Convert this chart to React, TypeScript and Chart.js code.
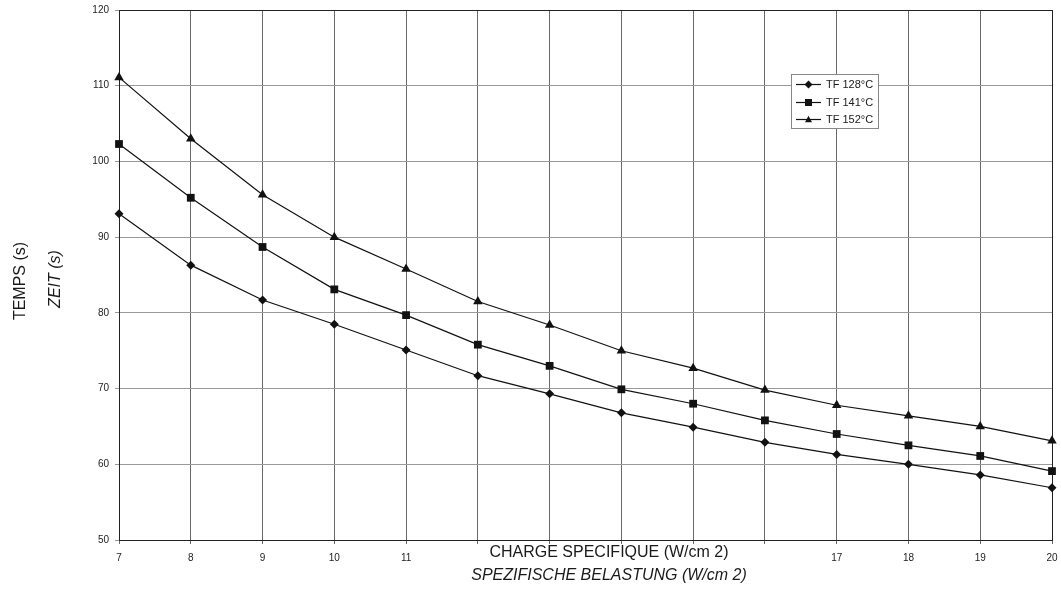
import React, { useEffect, useRef } from "react";
import { Chart, registerables } from "chart.js";

Chart.register(...registerables);

const xValues = [7, 8, 9, 10, 11, 12, 13, 14, 15, 16, 17, 18, 19, 20];
const tf128 = [93.1, 86.3, 81.7, 78.5, 75.1, 71.7, 69.3, 66.8, 64.9, 62.9, 61.3, 60.0, 58.6, 56.9];
const tf141 = [102.3, 95.2, 88.7, 83.1, 79.7, 75.8, 73.0, 69.9, 68.0, 65.8, 64.0, 62.5, 61.1, 59.1];
const tf152 = [111.1, 103.0, 95.6, 90.0, 85.8, 81.5, 78.4, 75.0, 72.7, 69.8, 67.8, 66.4, 65.0, 63.1];
const seriesLabels = ["TF 128°C", "TF 141°C", "TF 152°C"];
const seriesMarkers = ["rectRot", "rect", "triangle"];
const hiddenXTickLabels = [12, 13, 14, 15, 16];
const yMin = 50;
const yMax = 120;
const yStep = 10;
const yTitle1 = "TEMPS (s)";
const yTitle2 = "ZEIT (s)";
const xTitle1 = "CHARGE SPECIFIQUE (W/cm 2)";
const xTitle2 = "SPEZIFISCHE BELASTUNG (W/cm 2)";

const FONT = "Arial, 'Liberation Sans', Helvetica, sans-serif";

function drawMarker(ctx: CanvasRenderingContext2D, style: string, x: number, y: number, r: number) {
  ctx.beginPath();
  if (style === "rectRot") {
    ctx.moveTo(x, y - r);
    ctx.lineTo(x + r, y);
    ctx.lineTo(x, y + r);
    ctx.lineTo(x - r, y);
  } else if (style === "rect") {
    ctx.rect(x - r, y - r, 2 * r, 2 * r);
  } else {
    ctx.moveTo(x, y - r * 1.1);
    ctx.lineTo(x + r, y + r * 0.8);
    ctx.lineTo(x - r, y + r * 0.8);
  }
  ctx.closePath();
  ctx.fill();
}

const decorPlugin = {
  id: "decor",
  beforeDatasetsDraw(chart: any) {
    const { ctx, chartArea } = chart;
    ctx.save();
    ctx.strokeStyle = "#222";
    ctx.lineWidth = 1;
    ctx.strokeRect(
      Math.round(chartArea.left) + 0.5,
      Math.round(chartArea.top) + 0.5,
      Math.round(chartArea.right - chartArea.left),
      Math.round(chartArea.bottom - chartArea.top)
    );
    ctx.restore();
  },
  afterDraw(chart: any) {
    const { ctx } = chart;
    ctx.save();
    ctx.fillStyle = "#1a1a1a";
    ctx.textAlign = "center";
    ctx.textBaseline = "middle";
    ctx.save();
    ctx.translate(21, 281);
    ctx.rotate(-Math.PI / 2);
    ctx.font = `16px ${FONT}`;
    ctx.fillText(yTitle1, 0, 0);
    ctx.restore();
    ctx.save();
    ctx.translate(56, 279);
    ctx.rotate(-Math.PI / 2);
    ctx.font = `italic 16px ${FONT}`;
    ctx.fillText(yTitle2, 0, 0);
    ctx.restore();
    ctx.font = `16px ${FONT}`;
    ctx.fillText(xTitle1, 609, 553);
    ctx.font = `italic 16px ${FONT}`;
    ctx.fillText(xTitle2, 609, 576);

    const lx = 791, ly = 74, lw = 87, lh = 54;
    ctx.fillStyle = "#fff";
    ctx.fillRect(lx, ly, lw, lh);
    ctx.strokeStyle = "#888";
    ctx.lineWidth = 1;
    ctx.strokeRect(lx + 0.5, ly + 0.5, lw, lh);
    const rows = [84, 102, 119];
    chart.data.datasets.forEach((ds: any, i: number) => {
      const y = rows[i];
      ctx.strokeStyle = "#111";
      ctx.lineWidth = 1.2;
      ctx.beginPath();
      ctx.moveTo(796, y + 0.5);
      ctx.lineTo(821, y + 0.5);
      ctx.stroke();
      ctx.fillStyle = "#111";
      drawMarker(ctx, ds.pointStyle, 808.5, y + 0.5, ds.pointStyle === "rectRot" ? 4 : 3.5);
      ctx.fillStyle = "#1a1a1a";
      ctx.font = `11px ${FONT}`;
      ctx.textAlign = "left";
      ctx.textBaseline = "middle";
      ctx.fillText(ds.label, 826, y + 1);
    });
    ctx.restore();
  },
};

export default function App() {
  const canvasRef = useRef<HTMLCanvasElement | null>(null);

  useEffect(() => {
    if (!canvasRef.current) return;
    const seriesValues = [tf128, tf141, tf152];
    const radii = [4.5, 5.5, 5.5];
    const chart = new Chart(canvasRef.current, {
      type: "line",
      data: {
        datasets: seriesValues.map((vals, i) => ({
          label: seriesLabels[i],
          data: vals.map((v, j) => ({ x: xValues[j], y: v })),
          borderColor: "#111",
          backgroundColor: "#111",
          borderWidth: 1.2,
          pointStyle: seriesMarkers[i] as any,
          pointRadius: radii[i],
          pointBackgroundColor: "#111",
          pointBorderColor: "#111",
          pointBorderWidth: 0,
          tension: 0,
          clip: false as any,
        })),
      },
      options: {
        animation: false,
        responsive: false,
        maintainAspectRatio: false,
        layout: { padding: { left: 0, right: 9, top: 10, bottom: 0 } },
        plugins: {
          legend: { display: false },
          tooltip: { enabled: false },
        },
        scales: {
          x: {
            type: "linear",
            min: xValues[0],
            max: xValues[xValues.length - 1],
            afterFit: (s: any) => {
              s.height = 52;
              s.paddingLeft = 0;
              s.paddingRight = 0;
            },
            ticks: {
              stepSize: 1,
              padding: 8,
              color: "#222",
              font: { family: FONT, size: 10 },
              maxRotation: 0,
              autoSkip: false,
              callback: (v: any) => (hiddenXTickLabels.includes(Number(v)) ? "" : String(v)),
            },
            grid: { color: "#6a6a6a", lineWidth: 1, tickLength: 4, drawTicks: true },
            border: { display: true, color: "#222" },
          },
          y: {
            min: yMin,
            max: yMax,
            afterFit: (s: any) => {
              s.width = 119;
              s.paddingTop = 0;
              s.paddingBottom = 0;
            },
            ticks: {
              stepSize: yStep,
              padding: 6,
              color: "#222",
              font: { family: FONT, size: 10 },
            },
            grid: { color: "#9a9a9a", lineWidth: 1, tickLength: 4, drawTicks: true },
            border: { display: true, color: "#222" },
          },
        },
      },
      plugins: [decorPlugin],
    });
    return () => chart.destroy();
  }, []);

  return (
    <div style={{ position: "fixed", left: 0, top: 0, width: 1061, height: 592, background: "#fff" }}>
      <canvas ref={canvasRef} width={1061} height={592} style={{ display: "block" }} />
    </div>
  );
}
